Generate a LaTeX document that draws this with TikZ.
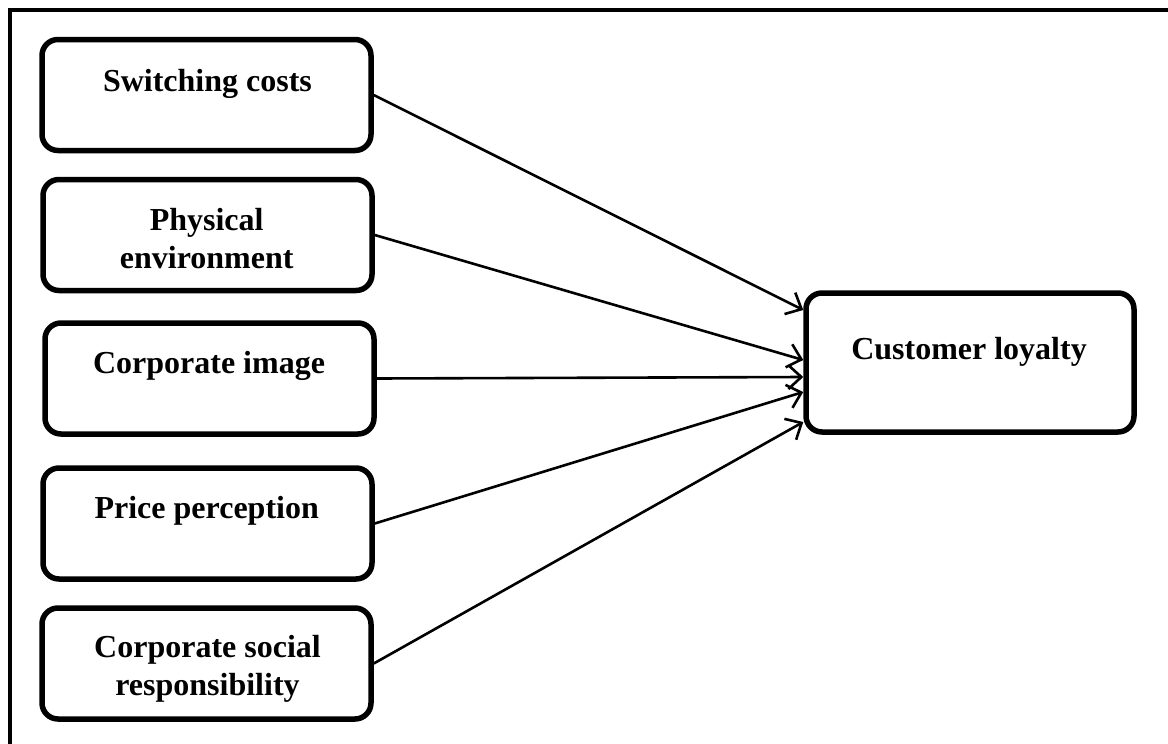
\documentclass[tikz,border=0pt]{standalone}
\usepackage{fontspec}
\setmainfont{Liberation Serif}
\usetikzlibrary{arrows.meta}
\begin{document}
\begin{tikzpicture}[x=1pt,y=-1pt,
  frame/.style={line width=4.5pt},
  factor/.style={draw, line width=5.5pt, rounded corners=16pt, minimum width=329pt, minimum height=111pt, inner sep=0pt},
  label text/.style={font=\fontsize{32}{38.5}\selectfont\bfseries, align=center, inner sep=0pt},
  link/.style={line width=2.6pt, -{Straight Barb[length=13pt,width=24pt]}}
]
\useasboundingbox (0,0) rectangle (1168,744);
\fill[white] (0,0) rectangle (1168,744);
\draw[frame] (10,760) -- (10,10) -- (1180,10);

\node[factor] (sc) at (206.5,95) {};
\node[factor] (pe) at (207.5,235) {};
\node[factor] (ci) at (209.5,378.5) {};
\node[factor] (pp) at (207.5,523.5) {};
\node[factor] (csr) at (206.5,663.5) {};
\node[factor, minimum width=328pt, minimum height=139pt] (cl) at (970,362.5) {};

\node[label text, anchor=base] (tsc) at (207.5,91) {Switching costs};
\node[label text] (tpe) at (206.7,238.5) {Physical\\environment};
\node[label text, anchor=base] (tci) at (209,373) {Corporate image};
\node[label text, anchor=base] (tpp) at (206.7,518) {Price perception};
\begin{scope}
\clip (0,0) rectangle (1168,701);
\node[label text] (tcsr) at (207.5,669) {Corporate social\\responsibility};
\end{scope}
\node[label text, anchor=base] (tcl) at (969,359) {Customer loyalty};

\draw[link] (sc.east) -- ([yshift=52.5pt]cl.west);
\draw[link] (pe.east) -- ([yshift=2.5pt]cl.west);
\draw[link] (ci.east) -- ([yshift=-14.5pt]cl.west);
\draw[link] (pp.east) -- ([yshift=-29.5pt]cl.west);
\draw[link] (csr.east) -- ([yshift=-59.5pt]cl.west);
\end{tikzpicture}
\end{document}
